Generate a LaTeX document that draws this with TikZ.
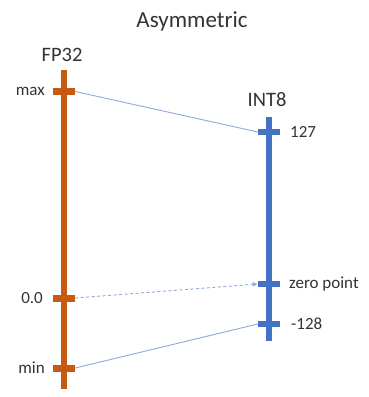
\documentclass[tikz,border=0pt]{standalone}
\usepackage{fontspec}
\setmainfont{Carlito}
\usetikzlibrary{arrows.meta}
\definecolor{fporange}{HTML}{C55A11}
\definecolor{intblue}{HTML}{4472C4}
\definecolor{linkblue}{HTML}{8EA9DB}
\begin{document}
\begin{tikzpicture}[x=1pt,y=-1pt,
  otick/.style={rectangle,fill=fporange,minimum width=22pt,minimum height=7pt,inner sep=0pt},
  btick/.style={rectangle,fill=intblue,minimum width=22pt,minimum height=6pt,inner sep=0pt},
  obar/.style={rectangle,fill=fporange,minimum width=5.5pt,inner sep=0pt},
  bbar/.style={rectangle,fill=intblue,minimum width=5.5pt,inner sep=0pt},
  head/.style={font=\fontsize{20.5}{22}\selectfont,text=black!80,inner sep=0pt},
  lab/.style={font=\fontsize{17}{19}\selectfont,text=black!80,inner sep=0pt},
  link/.style={draw=linkblue,line width=0.9pt}]
\useasboundingbox (0,0) rectangle (368,397);
\node[head,font=\fontsize{23}{25}\selectfont] (title) at (192,21) {Asymmetric};
\node[head] (fp) at (62,55) {FP32};
\node[head] (int) at (267,100) {INT8};
\node[obar,minimum height=319pt] (ob) at (64,229.5) {};
\node[bbar,minimum height=224pt] (bb) at (269,229) {};
\node[otick] (omax) at (64,91.5) {};
\node[otick] (ozero) at (64,298) {};
\node[otick] (omin) at (64,368) {};
\node[btick] (b127) at (269,132) {};
\node[btick] (bzero) at (269,284) {};
\node[btick] (bm128) at (269,324) {};
\node[lab,anchor=east] (lmax) at (45,91.5) {max};
\node[lab,anchor=east] (lzero) at (43,298) {0.0};
\node[lab,anchor=east] (lmin) at (45,368) {min};
\node[lab,anchor=west] (l127) at (290,132) {127};
\node[lab,anchor=west] (lzp) at (289,284) {zero point};
\node[lab,anchor=west] (lm128) at (291,324) {-128};
\draw[link] (omax.east) -- (b127.west);
\draw[link,dashed,dash pattern=on 3pt off 2.5pt,-{Latex[length=5pt,width=5pt]}] (ozero.east) -- (bzero.west);
\draw[link] (omin.east) -- (bm128.west);
\end{tikzpicture}
\end{document}
